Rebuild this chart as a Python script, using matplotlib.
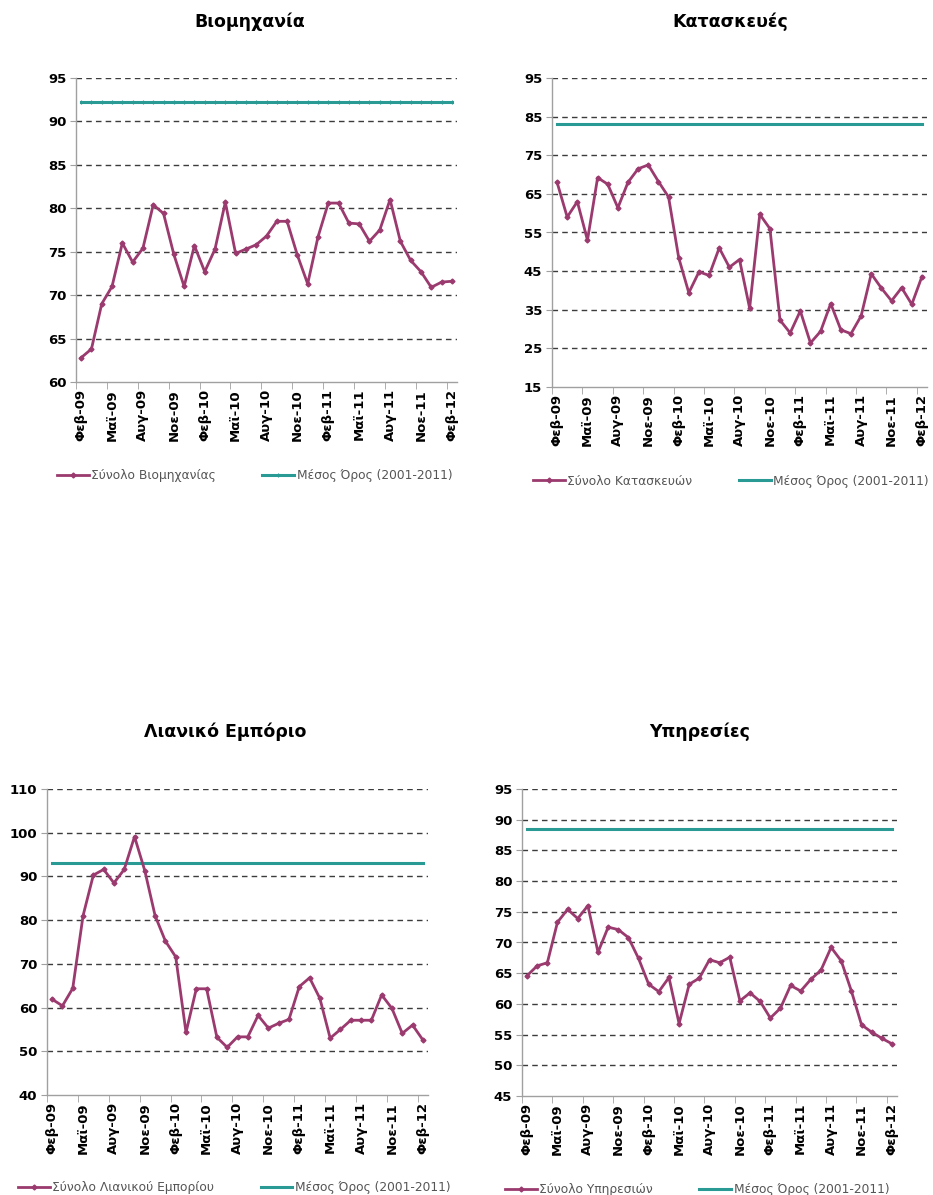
import numpy as np
import matplotlib; matplotlib.use("Agg")
import matplotlib.pyplot as plt

plt.rcParams['font.family'] = ['DejaVu Sans']

W, H = 933, 1195
fig = plt.figure(figsize=(W / 100, H / 100), dpi=100)
fig.patch.set_facecolor("white")

# ── data (monthly, Feb-09 .. Feb-12) ──────────────────────────────────
tick_labels = ["Φεβ-09", "Μαϊ-09", "Αυγ-09", "Νοε-09", "Φεβ-10", "Μαϊ-10", "Αυγ-10",
               "Νοε-10", "Φεβ-11", "Μαϊ-11", "Αυγ-11", "Νοε-11", "Φεβ-12"]

industry = [62.8, 63.8, 69.0, 71.0, 76.0, 73.8, 75.4, 80.4, 79.4, 74.7, 71.0, 75.7, 72.7,
            75.3, 80.7, 74.8, 75.3, 75.8, 76.8, 78.5, 78.5, 74.6, 71.3, 76.7, 80.6, 80.6,
            78.3, 78.2, 76.2, 77.5, 81.0, 76.2, 74.0, 72.7, 70.9, 71.5, 71.6]
industry_avg = 92.2

construction = [68.0, 59.0, 63.0, 53.0, 69.2, 67.5, 61.4, 68.0, 71.5, 72.5, 68.2, 64.2, 48.5,
                39.4, 44.8, 43.9, 51.0, 46.0, 48.0, 35.4, 59.7, 56.0, 32.3, 29.0, 34.7, 26.4,
                29.4, 36.6, 29.8, 28.8, 33.4, 44.3, 40.6, 37.3, 40.7, 36.4, 43.6]
construction_avg = 83.0

retail = [61.9, 60.4, 64.4, 81.0, 90.3, 91.6, 88.5, 91.6, 99.1, 91.3, 81.0, 75.2, 71.6,
          54.3, 64.3, 64.3, 53.2, 50.9, 53.3, 53.3, 58.2, 55.3, 56.4, 57.3, 64.8, 66.8,
          62.1, 53.0, 55.0, 57.1, 57.1, 57.1, 62.9, 59.8, 54.1, 56.0, 52.6]
retail_avg = 93.0

services = [64.6, 66.2, 66.7, 73.3, 75.4, 73.9, 76.0, 68.4, 72.5, 72.1, 70.8, 67.4, 63.2,
            62.0, 64.3, 56.8, 63.2, 64.2, 67.2, 66.7, 67.6, 60.5, 61.8, 60.4, 57.7, 59.3,
            63.0, 62.1, 64.0, 65.5, 69.2, 67.0, 62.1, 56.6, 55.4, 54.4, 53.5]
services_avg = 88.5

SERIES_COL = "#9b3a6e"
AVG_COL = "#2a9a94"
GRID_COL = "#3c3c3c"
AXIS_COL = "#a0a0a0"

# panel specs: title, values, avg, label, yticks, pixel box (l, t, r, b), title pos, legend pos
panels = [
    ("Βιομηχανία", industry, industry_avg, "Σύνολο Βιομηχανίας", np.arange(60, 96, 5),
     (76, 78, 457, 382), (250, 22), (57, 476), True),
    ("Κατασκευές", construction, construction_avg, "Σύνολο Κατασκευών", np.arange(15, 96, 10),
     (552, 78, 927, 387), (730, 22), (533, 481), False),
    ("Λιανικό Εμπόριο", retail, retail_avg, "Σύνολο Λιανικού Εμπορίου", np.arange(40, 111, 10),
     (47, 789, 428, 1095), (225, 732), (18, 1188), False),
    ("Υπηρεσίες", services, services_avg, "Σύνολο Υπηρεσιών", np.arange(45, 96, 5),
     (522, 789, 897, 1096), (700, 732), (505, 1190), False),
]

for title, vals, avg, lab, yt, box, tpos, lpos, avg_marks in panels:
    l, t, r, b = box
    ax = fig.add_axes([l / W, 1 - b / H, (r - l) / W, (b - t) / H])
    x = np.arange(len(vals))

    for yv in yt[1:]:
        ax.axhline(yv, color=GRID_COL, lw=1.0, ls=(0, (4, 3)), zorder=1)

    line_avg, = ax.plot(x, [avg] * len(vals), color=AVG_COL, lw=2.2, zorder=3,
                        marker="|" if avg_marks else None, markersize=3, markeredgewidth=0.8,
                        label="Μέσος Όρος (2001-2011)")
    line_s, = ax.plot(x, vals, color=SERIES_COL, lw=2.0, marker="D", markersize=2.5,
                      zorder=4, label=lab)

    ax.set_xlim(-0.5, len(vals) - 0.5)
    ax.set_ylim(yt[0], yt[-1])
    ax.set_yticks(yt)
    ax.set_yticklabels([str(v) for v in yt], fontsize=9.5, fontweight="bold")
    ax.set_xticks(np.arange(0, len(vals), 3))
    ax.set_xticklabels(tick_labels, rotation=90, fontsize=9.5, fontweight="bold")
    ax.set_xticks(np.arange(-0.5, len(vals), 3), minor=True)
    ax.tick_params(axis="x", which="major", length=0, pad=5)
    ax.tick_params(axis="x", which="minor", length=5, color=AXIS_COL, direction="out")
    ax.tick_params(axis="y", length=4, color=AXIS_COL, pad=3)

    for s in ("top", "right"):
        ax.spines[s].set_visible(False)
    for s in ("left", "bottom"):
        ax.spines[s].set_color(AXIS_COL)
        ax.spines[s].set_linewidth(1.0)

    fig.text(tpos[0] / W, 1 - tpos[1] / H, title, ha="center", va="center",
             fontsize=12.5, fontweight="bold")

    fig.legend(handles=[line_s, line_avg], loc="center left",
               bbox_to_anchor=(lpos[0] / W, 1 - lpos[1] / H), ncol=2, frameon=False,
               fontsize=8.8, handlelength=2.6, columnspacing=3.8, handletextpad=0.2,
               labelcolor="#555555", borderaxespad=0, borderpad=0)

fig.savefig("out.png", dpi=100, facecolor="white")
